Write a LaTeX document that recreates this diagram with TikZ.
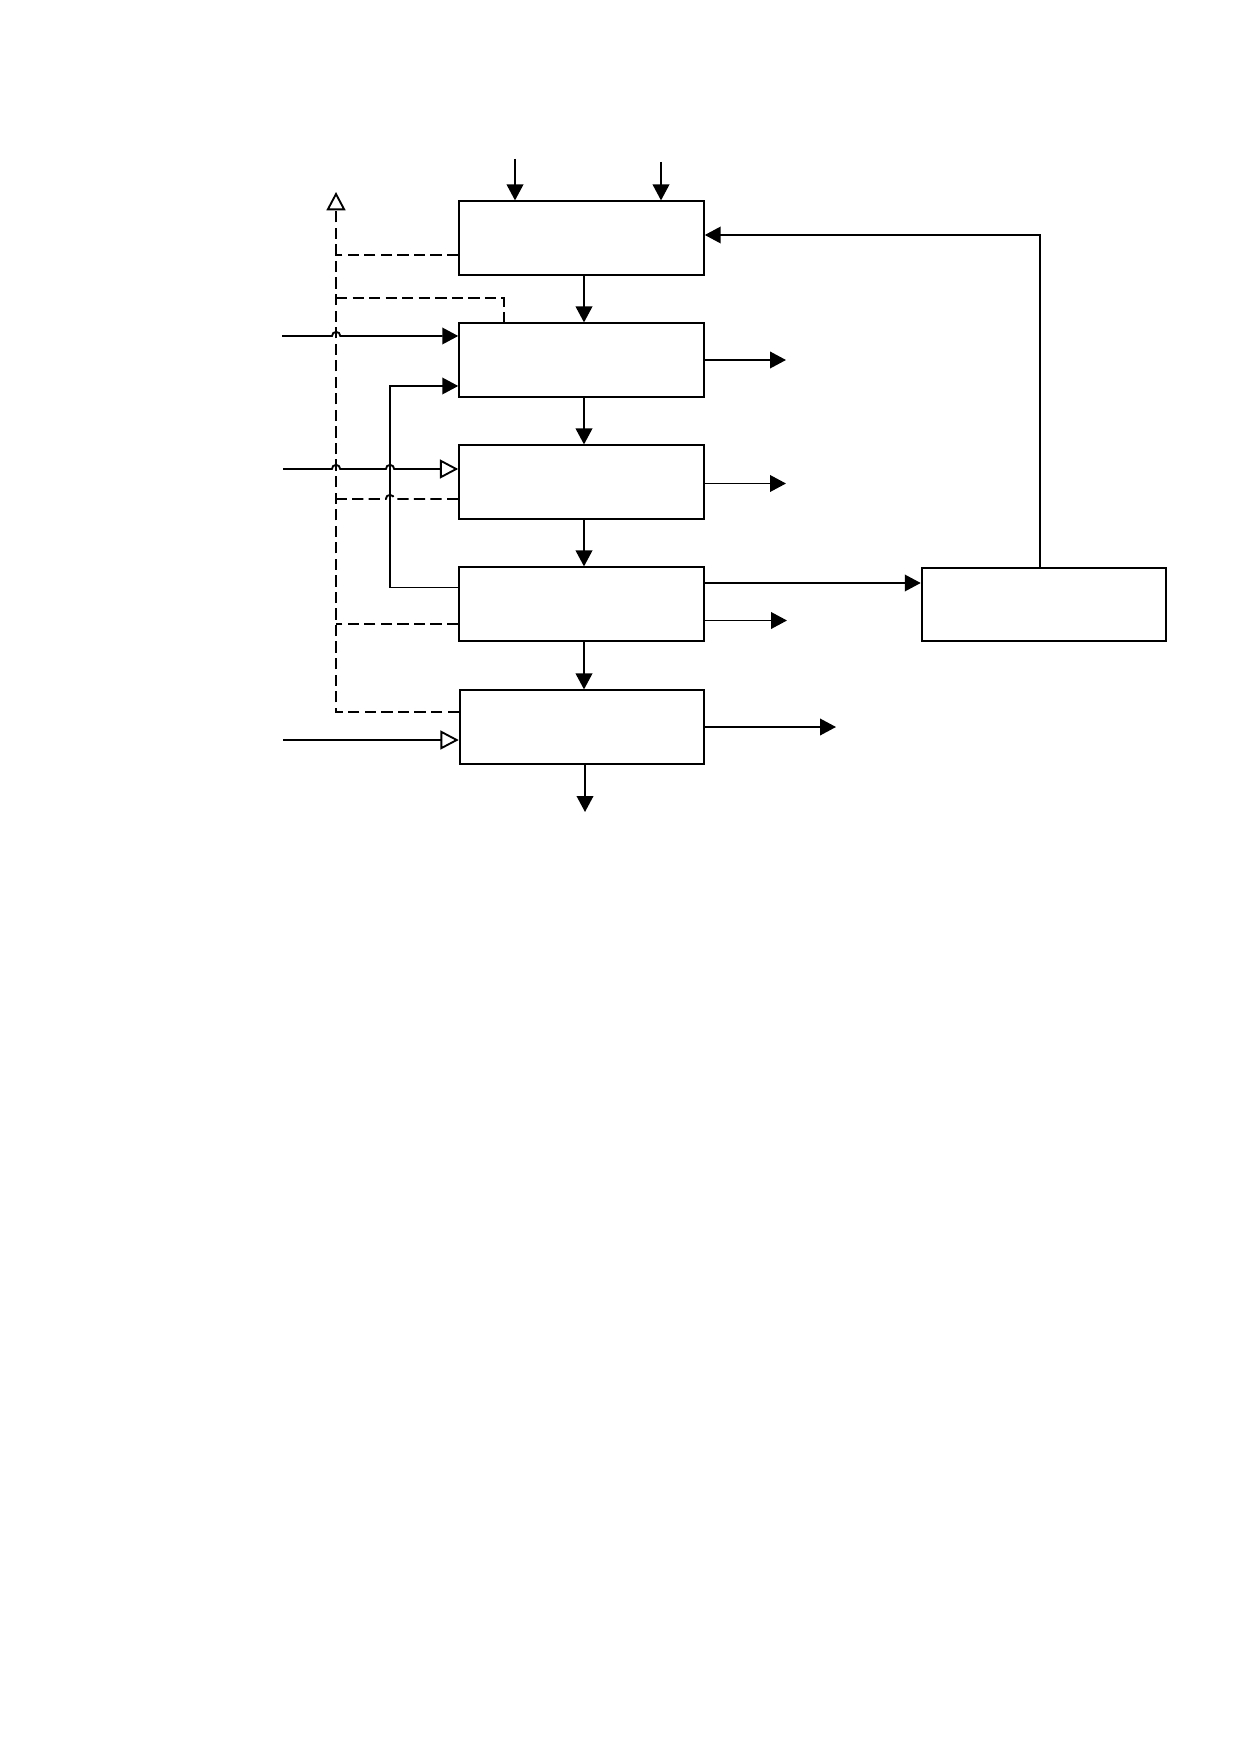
\documentclass[tikz,border=0pt]{standalone}
\usetikzlibrary{arrows.meta}
\begin{document}
\begin{tikzpicture}[x=0.1692mm,y=-0.1692mm,line width=0.9pt,
  blk/.style={draw,minimum width=41.4mm,minimum height=12.4mm,inner sep=0pt},
  arr/.style={-{Triangle[length=2.7mm,width=2.8mm]}},
  oarr/.style={-{Triangle[open,length=3.1mm,width=3.2mm,fill=white]}},
  dsh/.style={dash pattern=on 1.9mm off 0.9mm}]

\useasboundingbox (0,0) rectangle (1241,1754);

% boxes
\node[blk] (b1) at (581.5,238) {};
\node[blk] (b2) at (581.5,360) {};
\node[blk] (b3) at (581.5,482) {};
\node[blk] (b4) at (581.5,604) {};
\node[blk] (b5) at (582,727) {};
\node[blk] (b6) at (1044,604.5) {};

% free ends
\coordinate (t1) at (515,159);
\coordinate (t2) at (661,162);
\coordinate (mx) at (584,0);
\coordinate (up) at (336,192);
\coordinate (fb) at (1040,235);
\coordinate (i1) at (282,336);
\coordinate (i2) at (283,469);
\coordinate (i3) at (283,740);
\coordinate (lp) at (390,386);
\coordinate (o2) at (786,360);
\coordinate (o3) at (786,483.5);
\coordinate (o4) at (787,620.5);
\coordinate (o45) at (800,583);
\coordinate (o5) at (836,727);
\coordinate (o6) at (585,812);
\coordinate (d1) at (336,255);
\coordinate (d2) at (504,298);
\coordinate (d3) at (336,499);
\coordinate (d4) at (336,624);
\coordinate (d5) at (336,712);

% main flow
\draw[arr] (t1) -- (t1 |- b1.north);
\draw[arr] (t2) -- (t2 |- b1.north);
\draw[arr] (b1.south -| mx) -- (b2.north -| mx);
\draw[arr] (b2.south -| mx) -- (b3.north -| mx);
\draw[arr] (b3.south -| mx) -- (b4.north -| mx);
\draw[arr] (b4.south -| mx) -- (b5.north -| mx);
\draw[arr] (b5.south -| o6) -- (o6);

% outputs
\draw[arr] (b2.east |- o2) -- (o2);
\draw[arr] (b3.east |- o3) -- (o3);
\draw[arr] (b4.east |- o45) -- (b6.west |- o45);
\draw[arr] (b4.east |- o4) -- (o4);
\draw[arr] (b5.east |- o5) -- (o5);

% feedback
\draw[arr] (b6.north -| fb) -- (fb) -- (fb -| b1.east);
\draw[arr] (b4.west |- 0,587.5) -| (lp) -- (b2.west |- lp);

% inputs, with hops
\draw[arr] (i1) -- (332,336) arc[start angle=180,end angle=0,radius=0.7mm] -- (b2.west |- i1);
\draw[oarr] (i2) -- (331.9,469) arc[start angle=180,end angle=0,radius=0.7mm]
  -- (385.9,469) arc[start angle=180,end angle=0,radius=0.7mm] -- (b3.west |- i2);
\draw[oarr] (i3) -- (b5.west |- i3);

% dashed
\draw[dsh] (b1.west |- d1) -- (d1);
\draw[dsh] (d2 -| up) -- (d2) -- (d2 |- b2.north);
\draw[dsh] (b3.west |- d3) -- (394.1,499) arc[start angle=0,end angle=180,radius=0.7mm] -- (d3);
\draw[dsh] (b4.west |- d4) -- (d4);
\draw[dsh,oarr] (b5.west |- d5) -- (d5) -- (up);

\end{tikzpicture}
\end{document}
